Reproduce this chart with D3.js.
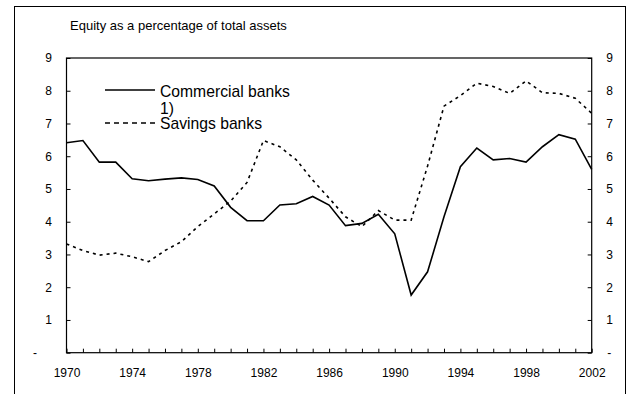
<!DOCTYPE html>
<html><head><meta charset="utf-8">
<script src="https://cdn.jsdelivr.net/npm/d3@7"></script>
<style>
html,body{margin:0;padding:0;background:#fff;}
svg{display:block;font-family:"Liberation Sans",Arial,sans-serif;}
</style></head>
<body>
<svg id="chart" width="636" height="394"></svg>
<script>
const years = [1970,1971,1972,1973,1974,1975,1976,1977,1978,1979,1980,1981,1982,1983,1984,1985,1986,1987,1988,1989,1990,1991,1992,1993,1994,1995,1996,1997,1998,1999,2000,2001,2002];
const commercialBanks = [6.41,6.48,5.82,5.82,5.31,5.25,5.30,5.34,5.29,5.09,4.44,4.03,4.03,4.51,4.55,4.77,4.51,3.88,3.95,4.23,3.63,1.76,2.47,4.15,5.68,6.25,5.89,5.93,5.82,6.29,6.66,6.52,5.60];
const savingsBanks = [3.32,3.12,2.98,3.04,2.93,2.78,3.12,3.39,3.85,4.24,4.63,5.20,6.48,6.29,5.89,5.27,4.72,4.15,3.85,4.34,4.05,4.05,5.70,7.53,7.85,8.23,8.13,7.92,8.30,7.94,7.92,7.77,7.31];
const yTicks = [0,1,2,3,4,5,6,7,8,9];
const xLabelYears = [1970,1974,1978,1982,1986,1990,1994,1998,2002];
const title = "Equity as a percentage of total assets";
const seriesNames = ["Commercial banks", "1)", "Savings banks"];

const svg = d3.select("#chart");
const L = 66.5, R = 591.7, T = 58, B = 352.7;
const x = d3.scaleLinear().domain([1970, 2002]).range([L, R]);
const y = d3.scaleLinear().domain([0, 9]).range([B, T]);

// outer frame
svg.append("rect").attr("x", 14.5).attr("y", 6.5).attr("width", 611).attr("height", 420)
  .attr("fill", "none").attr("stroke", "#000").attr("stroke-width", 1);

svg.append("text").attr("x", 70).attr("y", 30).attr("font-size", 13).attr("fill", "#000").text(title);

// plot box
svg.append("rect").attr("x", L).attr("y", T).attr("width", R - L).attr("height", B - T)
  .attr("fill", "none").attr("stroke", "#000").attr("stroke-width", 1.2);

const fmtY = d => d === 0 ? "-" : String(d);

const gx = svg.append("g").attr("transform", `translate(0,${B})`)
  .call(d3.axisBottom(x).tickValues(years).tickSize(-4).tickSizeOuter(0).tickPadding(16)
    .tickFormat(d => xLabelYears.includes(d) ? String(d) : ""));
const gl = svg.append("g").attr("transform", `translate(${L},0)`)
  .call(d3.axisLeft(y).tickValues(yTicks).tickSize(-4).tickSizeOuter(0).tickPadding(14.5).tickFormat(fmtY));
const gr = svg.append("g").attr("transform", `translate(${R},0)`)
  .call(d3.axisRight(y).tickValues(yTicks).tickSize(-4).tickSizeOuter(0).tickPadding(14.5).tickFormat(fmtY));

[gx, gl, gr].forEach(g => {
  g.select(".domain").remove();
  g.selectAll("line").attr("stroke", "#000").attr("stroke-width", 1);
  g.selectAll("text").attr("font-size", 12).attr("fill", "#000").attr("font-family", "Liberation Sans, Arial, sans-serif");
});
gl.selectAll(".tick").filter(d => d === 0).select("text").attr("x", -29.5);
gr.selectAll(".tick").filter(d => d === 0).select("text").attr("x", 15.5);

const line = d3.line().x((d, i) => x(years[i])).y(d => y(d));

svg.append("path").datum(savingsBanks).attr("d", line).attr("fill", "none")
  .attr("stroke", "#000").attr("stroke-width", 1.6).attr("stroke-dasharray", "3,4");
svg.append("path").datum(commercialBanks).attr("d", line).attr("fill", "none")
  .attr("stroke", "#000").attr("stroke-width", 1.6);

// legend
svg.append("line").attr("x1", 105).attr("x2", 155).attr("y1", 90).attr("y2", 90)
  .attr("stroke", "#000").attr("stroke-width", 1.6);
svg.append("line").attr("x1", 105).attr("x2", 155).attr("y1", 123).attr("y2", 123)
  .attr("stroke", "#000").attr("stroke-width", 1.6).attr("stroke-dasharray", "5,4");
const lg = svg.append("g").attr("font-size", 15.7).attr("fill", "#000");
lg.append("text").attr("x", 160).attr("y", 96.7).text(seriesNames[0]);
lg.append("text").attr("x", 160).attr("y", 113.5).text(seriesNames[1]);
lg.append("text").attr("x", 160).attr("y", 129).text(seriesNames[2]);
</script>
</body></html>
